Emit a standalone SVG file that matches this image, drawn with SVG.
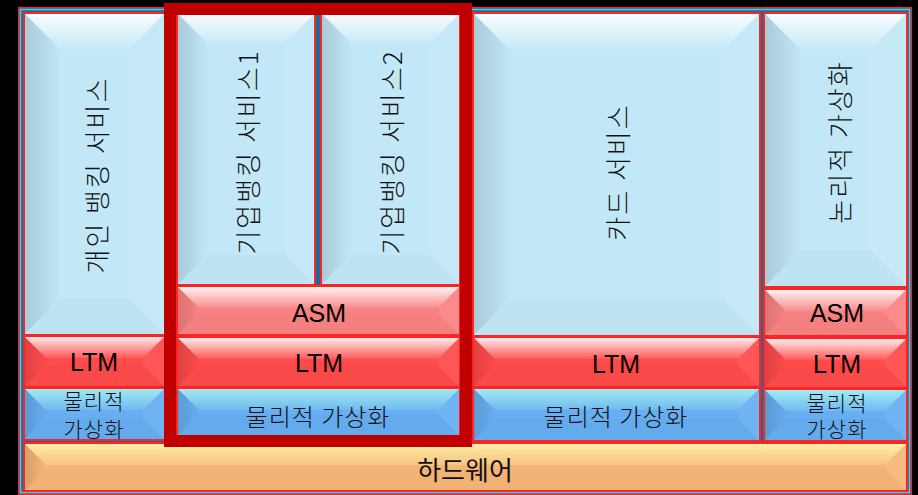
<svg xmlns="http://www.w3.org/2000/svg" width="918" height="495" viewBox="0 0 918 495">
<defs>
<linearGradient id="gTop" x1="0" y1="0" x2="0" y2="1"><stop offset="0" stop-color="#fff" stop-opacity="0.92"/><stop offset="1" stop-color="#fff" stop-opacity="0.08"/></linearGradient>
<linearGradient id="gTopPhy" x1="0" y1="0" x2="0" y2="1"><stop offset="0" stop-color="#a6f2f0" stop-opacity="0.95"/><stop offset="1" stop-color="#a6f2f0" stop-opacity="0.15"/></linearGradient>
<linearGradient id="gTopHw" x1="0" y1="0" x2="0" y2="1"><stop offset="0" stop-color="#fff4a8" stop-opacity="0.95"/><stop offset="1" stop-color="#fff4a8" stop-opacity="0.2"/></linearGradient>
<linearGradient id="gLeft" x1="0" y1="0" x2="1" y2="0"><stop offset="0" stop-color="#000" stop-opacity="0.13"/><stop offset="1" stop-color="#000" stop-opacity="0.01"/></linearGradient>
</defs>
<style>
.sky{fill:#c2e8f8}.ltm{fill:#ff4b4b}.asm{fill:#f98383}.phy{fill:#67aff2}.hw{fill:#f5b778}
.tp{fill:url(#gTop)}.tpp{fill:url(#gTopPhy)}.tph{fill:url(#gTopHw)}
.lf{fill:url(#gLeft)}.rt{fill:#fff;fill-opacity:0.07}.bt{fill:#000;fill-opacity:0.02}
.bd{fill:none;stroke:#ff2424;stroke-width:2}
.v{font-family:"Noto Sans CJK KR","Noto Sans",sans-serif;font-size:26px;font-weight:300;letter-spacing:2px;fill:#111;text-anchor:middle;dominant-baseline:central}
.ko{font-family:"Noto Sans CJK KR","Noto Sans",sans-serif;font-size:24px;font-weight:300;letter-spacing:1px;fill:#111;text-anchor:middle;dominant-baseline:central}
.ko2{font-family:"Noto Sans CJK KR","Noto Sans",sans-serif;font-size:21px;font-weight:300;letter-spacing:1px;fill:#111;text-anchor:middle;dominant-baseline:central}
.hwt{font-family:"Noto Sans CJK KR","Noto Sans",sans-serif;font-size:26px;fill:#111;text-anchor:middle;dominant-baseline:central}
.en{font-family:"Liberation Sans",Arial,sans-serif;font-size:25px;fill:#000;text-anchor:middle}
</style>
<rect width="918" height="495" fill="#000"/>
<rect x="18.5" y="7.5" width="893" height="487" fill="#1d6a98" stroke="#ff2020" stroke-width="1.2"/>
<rect x="20.5" y="9.5" width="889" height="483" fill="none" stroke="#5cc6d8" stroke-width="1.5"/>

<g id="personal-banking">
<rect class="sky" x="24" y="13" width="141" height="322"/>
<polygon class="tp" points="24,13 165,13 129,49 60,49"/>
<polygon class="lf" points="24,13 60,49 60,299 24,335"/>
<polygon class="rt" points="165,13 165,335 129,299 129,49"/>
<polygon class="bt" points="24,335 60,299 129,299 165,335"/>
<rect class="bd" x="24" y="13" width="141" height="322"/>
<text class="v" transform="translate(95,175) rotate(-90)">개인 뱅킹 서비스</text>
</g>
<g id="ltm-1">
<rect class="ltm" x="24" y="336" width="141" height="51"/>
<polygon class="tp" points="24,336 165,336 143,358 46,358"/>
<polygon class="lf" points="24,336 46,358 46,365 24,387"/>
<polygon class="rt" points="165,336 165,387 143,365 143,358"/>
<polygon class="bt" points="24,387 46,365 143,365 165,387"/>
<rect class="bd" x="24" y="336" width="141" height="51"/>
<text class="en" x="94" y="371">LTM</text>
</g>
<g id="phys-1">
<rect class="phy" x="24" y="388" width="141" height="52"/>
<polygon class="tpp" points="24,388 165,388 143,410 46,410"/>
<polygon class="lf" points="24,388 46,410 46,418 24,440"/>
<polygon class="rt" points="165,388 165,440 143,418 143,410"/>
<polygon class="bt" points="24,440 46,418 143,418 165,440"/>
<rect class="bd" x="24" y="388" width="141" height="52"/>
<text class="ko2" x="94" y="400">물리적</text>
<text class="ko2" x="94" y="428">가상화</text>
</g>

<g id="corp-banking-1">
<rect class="sky" x="177" y="13" width="138" height="272"/>
<polygon class="tp" points="177,13 315,13 285,43 207,43"/>
<polygon class="lf" points="177,13 207,43 207,255 177,285"/>
<polygon class="rt" points="315,13 315,285 285,255 285,43"/>
<polygon class="bt" points="177,285 207,255 285,255 315,285"/>
<rect class="bd" x="177" y="13" width="138" height="272"/>
<text class="v" transform="translate(246,152) rotate(-90)">기업뱅킹 서비스1</text>
</g>
<g id="corp-banking-2">
<rect class="sky" x="321" y="13" width="139" height="272"/>
<polygon class="tp" points="321,13 460,13 430,43 351,43"/>
<polygon class="lf" points="321,13 351,43 351,255 321,285"/>
<polygon class="rt" points="460,13 460,285 430,255 430,43"/>
<polygon class="bt" points="321,285 351,255 430,255 460,285"/>
<rect class="bd" x="321" y="13" width="139" height="272"/>
<text class="v" transform="translate(390,152) rotate(-90)">기업뱅킹 서비스2</text>
</g>
<g id="asm-2">
<rect class="asm" x="177" y="286" width="283" height="49"/>
<polygon class="tp" points="177,286 460,286 438,308 199,308"/>
<polygon class="lf" points="177,286 199,308 199,313 177,335"/>
<polygon class="rt" points="460,286 460,335 438,313 438,308"/>
<polygon class="bt" points="177,335 199,313 438,313 460,335"/>
<rect class="bd" x="177" y="286" width="283" height="49"/>
<text class="en" x="319" y="322">ASM</text>
</g>
<g id="ltm-2">
<rect class="ltm" x="177" y="337" width="283" height="50"/>
<polygon class="tp" points="177,337 460,337 438,359 199,359"/>
<polygon class="lf" points="177,337 199,359 199,365 177,387"/>
<polygon class="rt" points="460,337 460,387 438,365 438,359"/>
<polygon class="bt" points="177,387 199,365 438,365 460,387"/>
<rect class="bd" x="177" y="337" width="283" height="50"/>
<text class="en" x="319" y="372">LTM</text>
</g>
<g id="phys-2">
<rect class="phy" x="177" y="388" width="283" height="48"/>
<polygon class="tpp" points="177,388 460,388 438,410 199,410"/>
<polygon class="lf" points="177,388 199,410 199,414 177,436"/>
<polygon class="rt" points="460,388 460,436 438,414 438,410"/>
<polygon class="bt" points="177,436 199,414 438,414 460,436"/>
<rect class="bd" x="177" y="388" width="283" height="48"/>
<text class="ko" x="318" y="415">물리적 가상화</text>
</g>

<g id="card-service">
<rect class="sky" x="473" y="13" width="287" height="323"/>
<polygon class="tp" points="473,13 760,13 724,49 509,49"/>
<polygon class="lf" points="473,13 509,49 509,300 473,336"/>
<polygon class="rt" points="760,13 760,336 724,300 724,49"/>
<polygon class="bt" points="473,336 509,300 724,300 760,336"/>
<rect class="bd" x="473" y="13" width="287" height="323"/>
<text class="v" transform="translate(616,172) rotate(-90)">카드 서비스</text>
</g>
<g id="ltm-3">
<rect class="ltm" x="473" y="337" width="287" height="50"/>
<polygon class="tp" points="473,337 760,337 738,359 495,359"/>
<polygon class="lf" points="473,337 495,359 495,365 473,387"/>
<polygon class="rt" points="760,337 760,387 738,365 738,359"/>
<polygon class="bt" points="473,387 495,365 738,365 760,387"/>
<rect class="bd" x="473" y="337" width="287" height="50"/>
<text class="en" x="616" y="373">LTM</text>
</g>
<g id="phys-3">
<rect class="phy" x="473" y="388" width="287" height="53"/>
<polygon class="tpp" points="473,388 760,388 738,410 495,410"/>
<polygon class="lf" points="473,388 495,410 495,419 473,441"/>
<polygon class="rt" points="760,388 760,441 738,419 738,410"/>
<polygon class="bt" points="473,441 495,419 738,419 760,441"/>
<rect class="bd" x="473" y="388" width="287" height="53"/>
<text class="ko" x="616" y="415">물리적 가상화</text>
</g>

<g id="logical-virt">
<rect class="sky" x="764" y="13" width="143" height="274"/>
<polygon class="tp" points="764,13 907,13 871,49 800,49"/>
<polygon class="lf" points="764,13 800,49 800,251 764,287"/>
<polygon class="rt" points="907,13 907,287 871,251 871,49"/>
<polygon class="bt" points="764,287 800,251 871,251 907,287"/>
<rect class="bd" x="764" y="13" width="143" height="274"/>
<text class="v" transform="translate(838,142) rotate(-90)">논리적 가상화</text>
</g>
<g id="asm-4">
<rect class="asm" x="764" y="289" width="143" height="47"/>
<polygon class="tp" points="764,289 907,289 885,311 786,311"/>
<polygon class="lf" points="764,289 786,311 786,314 764,336"/>
<polygon class="rt" points="907,289 907,336 885,314 885,311"/>
<polygon class="bt" points="764,336 786,314 885,314 907,336"/>
<rect class="bd" x="764" y="289" width="143" height="47"/>
<text class="en" x="837" y="322">ASM</text>
</g>
<g id="ltm-4">
<rect class="ltm" x="764" y="338" width="143" height="50"/>
<polygon class="tp" points="764,338 907,338 885,360 786,360"/>
<polygon class="lf" points="764,338 786,360 786,366 764,388"/>
<polygon class="rt" points="907,338 907,388 885,366 885,360"/>
<polygon class="bt" points="764,388 786,366 885,366 907,388"/>
<rect class="bd" x="764" y="338" width="143" height="50"/>
<text class="en" x="837" y="373">LTM</text>
</g>
<g id="phys-4">
<rect class="phy" x="764" y="389" width="143" height="52"/>
<polygon class="tpp" points="764,389 907,389 885,411 786,411"/>
<polygon class="lf" points="764,389 786,411 786,419 764,441"/>
<polygon class="rt" points="907,389 907,441 885,419 885,411"/>
<polygon class="bt" points="764,441 786,419 885,419 907,441"/>
<rect class="bd" x="764" y="389" width="143" height="52"/>
<text class="ko2" x="837" y="402">물리적</text>
<text class="ko2" x="837" y="428">가상화</text>
</g>

<g id="hardware">
<rect class="hw" x="24" y="443" width="883" height="48"/>
<polygon class="tph" points="24,443 907,443 885,465 46,465"/>
<polygon class="lf" points="24,443 46,465 46,469 24,491"/>
<polygon class="rt" points="907,443 907,491 885,469 885,465"/>
<polygon class="bt" points="24,491 46,469 885,469 907,491"/>
<rect class="bd" x="24" y="443" width="883" height="48"/>
<text class="hwt" x="465" y="468">하드웨어</text>
</g>

<g id="highlight-frame">
<rect x="170" y="9" width="296" height="432" fill="none" stroke="#c00000" stroke-width="12"/>
</g>
</svg>
